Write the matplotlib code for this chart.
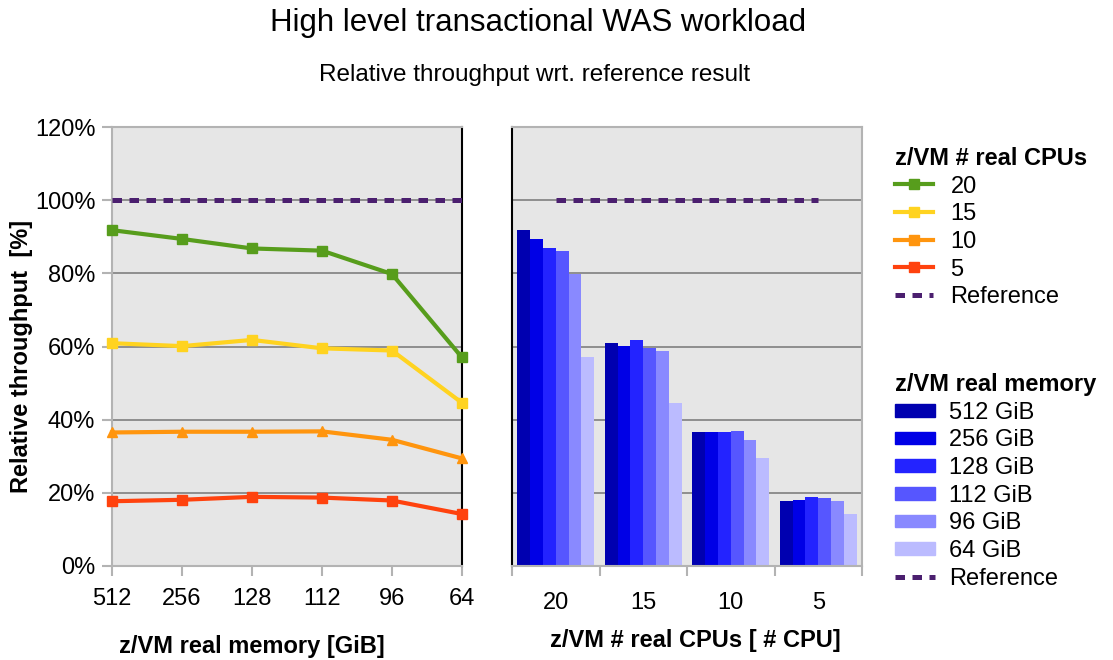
import numpy as np
import matplotlib.pyplot as plt
from matplotlib.lines import Line2D
from matplotlib.patches import Patch

plt.rcParams['font.family'] = ['Liberation Sans', 'DejaVu Sans']

# data
memory = ['512', '256', '128', '112', '96', '64']
mem_labels = ['512 GiB', '256 GiB', '128 GiB', '112 GiB', '96 GiB', '64 GiB']
cpus = ['20', '15', '10', '5']

tp_20 = [91.8, 89.4, 86.8, 86.2, 79.8, 57.0]
tp_15 = [60.9, 60.1, 61.8, 59.5, 58.9, 44.6]
tp_10 = [36.5, 36.7, 36.7, 36.8, 34.5, 29.4]
tp_5 = [17.7, 18.1, 18.9, 18.7, 17.9, 14.2]
reference = 100

line_colors = ['#579D1C', '#FFD320', '#FF950E', '#FF420E']
line_markers = ['s', 's', '^', 's']
bar_colors = ['#0000B0', '#0000E6', '#2323FF', '#5656FF', '#8989FF', '#BBBBFF']
ref_color = '#4B1F6F'
bg = '#E6E6E6'
grid_c = '#7F7F7F'

series = [tp_20, tp_15, tp_10, tp_5]

fig = plt.figure(figsize=(11.13, 6.6), dpi=100)
ax1 = fig.add_axes([112 / 1113, 1 - 566 / 660, 350 / 1113, 439 / 660])
ax2 = fig.add_axes([512 / 1113, 1 - 566 / 660, 350 / 1113, 439 / 660])

ref_style = dict(color=ref_color, lw=3.6, linestyle=(0, (1.9, 1.5)), dash_capstyle='butt')

x = np.arange(len(memory))
for ax in (ax1, ax2):
    ax.set_facecolor(bg)
    ax.set_ylim(0, 120)
    ax.set_yticks(np.arange(0, 121, 20))
    ax.grid(axis='y', color=grid_c, lw=1.2, zorder=1)
    ax.set_axisbelow(True)
    for s in ax.spines.values():
        s.set_color('#B3B3B3')
        s.set_linewidth(1.5)

# left: lines over memory size
ax1.plot(x, [reference] * len(x), zorder=3, **ref_style)
for vals, c, m in zip(series, line_colors, line_markers):
    ax1.plot(x, vals, color=c, lw=3, marker=m, markersize=6.5, zorder=4, clip_on=False)
ax1.set_xlim(0, len(memory) - 1)
ax1.set_xticks(x)
ax1.set_xticklabels(memory, fontsize=17)
ax1.set_yticklabels([f'{v}%' for v in range(0, 121, 20)], fontsize=17)
ax1.tick_params(axis='both', color='#B3B3B3', length=7, width=1.5)
ax1.tick_params(axis='x', pad=9)
ax1.tick_params(axis='y', pad=5)
ax1.spines['right'].set_color('black')

# right: grouped bars over cpu count
g = np.arange(len(cpus))
w = 0.147
for i, lab in enumerate(mem_labels):
    vals = [s[i] for s in series]
    ax2.bar(g - 2.5 * w + i * w, vals, width=w, color=bar_colors[i], zorder=2)
ax2.plot(g, [reference] * len(g), zorder=3, **ref_style)
ax2.set_xlim(-0.5, len(cpus) - 0.5)
ax2.set_xticks(g)
ax2.set_xticklabels(cpus, fontsize=17)
ax2.set_xticks(np.arange(-0.5, len(cpus)), minor=True)
ax2.tick_params(axis='x', which='major', length=0, pad=19)
ax2.tick_params(axis='x', which='minor', length=7, width=1.5, color='#B3B3B3')
ax2.set_yticklabels([])
ax2.tick_params(axis='y', length=0)
ax2.spines['left'].set_color('black')

# titles and labels
fig.text(538 / 1113, 1 - 23 / 660, 'High level transactional WAS workload', ha='center', va='center', fontsize=22.5)
fig.text(535 / 1113, 1 - 75 / 660, 'Relative throughput wrt. reference result', ha='center', va='center', fontsize=17.5)
fig.text(22 / 1113, 1 - 356 / 660, 'Relative throughput  [%]', rotation=90, ha='center', va='center',
         fontsize=17, fontweight='bold')
fig.text(252 / 1113, 1 - 647 / 660, 'z/VM real memory [GiB]', ha='center', va='center', fontsize=17, fontweight='bold')
fig.text(695 / 1113, 1 - 641 / 660, 'z/VM # real CPUs [ # CPU]', ha='center', va='center', fontsize=17, fontweight='bold')

# legends
h1 = [Line2D([], [], color=c, lw=3, marker='s', markersize=6.5) for c in line_colors]
h1.append(Line2D([], [], **ref_style))
leg1 = fig.legend(h1, cpus + ['Reference'], loc='upper left', bbox_to_anchor=(895 / 1113, 1 - 147 / 660),
                  frameon=False, fontsize=17, title='z/VM # real CPUs', handlelength=1.6,
                  labelspacing=0.24, handletextpad=0.75, borderaxespad=0, borderpad=0)
leg1.get_title().set_fontweight('bold')
leg1.get_title().set_fontsize(17)
leg1._legend_box.align = 'left'

h2 = [Patch(color=c) for c in bar_colors]
h2.append(Line2D([], [], **ref_style))
leg2 = fig.legend(h2, mem_labels + ['Reference'], loc='upper left', bbox_to_anchor=(895 / 1113, 1 - 373 / 660),
                  frameon=False, fontsize=17, title='z/VM real memory', handlelength=1.7, handleheight=0.45,
                  labelspacing=0.24, handletextpad=0.6, borderaxespad=0, borderpad=0)
leg2.get_title().set_fontweight('bold')
leg2.get_title().set_fontsize(17)
leg2._legend_box.align = 'left'

fig.savefig('out.png', dpi=100)
